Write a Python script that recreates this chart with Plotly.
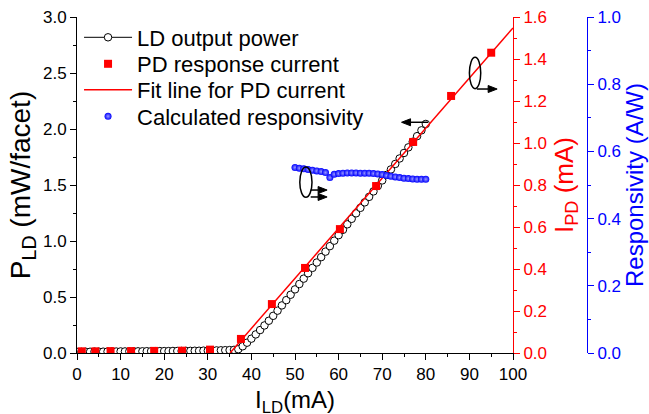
import plotly.graph_objects as go

# ---------------- data ----------------
ld_current = list(range(0, 81))
ld_power = [0.010, 0.010, 0.011, 0.011, 0.012, 0.012, 0.012, 0.013, 0.013, 0.013,
            0.014, 0.014, 0.014, 0.015, 0.015, 0.015, 0.016, 0.016, 0.016, 0.017,
            0.017, 0.017, 0.018, 0.018, 0.018, 0.019, 0.019, 0.020, 0.020, 0.021,
            0.021, 0.022, 0.023, 0.024, 0.025, 0.026, 0.028, 0.034, 0.060, 0.092,
            0.128, 0.166, 0.205, 0.246, 0.288, 0.332, 0.378, 0.425, 0.472, 0.520,
            0.568, 0.616, 0.664, 0.712, 0.760, 0.808, 0.856, 0.905, 0.954, 1.003,
            1.052, 1.100, 1.149, 1.198, 1.247, 1.296, 1.345, 1.394, 1.443, 1.492,
            1.541, 1.590, 1.639, 1.688, 1.737, 1.786, 1.836, 1.886, 1.936, 1.988,
            2.045]

pd_ld_current = [1.1, 4.2, 7.7, 12.4, 17.7, 24.1, 30.5, 37.6, 44.7, 52.3, 60.3, 68.6, 77.1, 85.8, 95.0]
pd_current = [0.008, 0.008, 0.009, 0.009, 0.010, 0.011, 0.016, 0.067, 0.233, 0.405,
              0.590, 0.795, 1.005, 1.224, 1.430]

fit_x = [35.1, 100.0]
fit_y = [0.0, 1.548]

resp_current = list(range(50, 81))
responsivity = [0.552, 0.550, 0.548, 0.546, 0.544, 0.542, 0.540, 0.537, 0.522, 0.532,
                0.534, 0.535, 0.536, 0.536, 0.536, 0.535, 0.535, 0.535, 0.534, 0.533,
                0.531, 0.528, 0.526, 0.524, 0.522, 0.520, 0.519, 0.518, 0.517, 0.517,
                0.517]

x_ticks = [0, 10, 20, 30, 40, 50, 60, 70, 80, 90, 100]

FONT = "Liberation Sans, Arial, sans-serif"
RED = "#ff0000"
BLUE = "#0000ff"

fig = go.Figure()

fig.add_trace(go.Scatter(
    x=ld_current, y=ld_power, mode="lines+markers", name="LD output power",
    line=dict(color="black", width=1),
    marker=dict(symbol="circle", size=7.5, color="white", line=dict(color="black", width=1)),
    yaxis="y", legend="legend"))

fig.add_trace(go.Scatter(
    x=pd_ld_current, y=pd_current, mode="markers", name="PD response current",
    marker=dict(symbol="square", size=8, color=RED),
    yaxis="y2", legend="legend2"))

fig.add_trace(go.Scatter(
    x=fit_x, y=fit_y, mode="lines", name="Fit line for PD current",
    line=dict(color=RED, width=1.5),
    yaxis="y2", legend="legend3"))

fig.add_trace(go.Scatter(
    x=resp_current, y=responsivity, mode="markers", name="Calculated responsivity",
    marker=dict(symbol="circle", size=7, color=BLUE,
                gradient=dict(type="radial", color="#9a9aff"),
                line=dict(width=0)),
    yaxis="y3", legend="legend4"))

dom_end = 436 / 510
plot_top, plot_h = 17, 336


def leg(center_px):
    return dict(x=0.004, y=1 - (center_px - plot_top) / plot_h, xanchor="left", yanchor="middle",
                bgcolor="rgba(0,0,0,0)", font=dict(size=22, family=FONT, color="black"),
                itemwidth=48, borderwidth=0)


fig.update_layout(
    width=649, height=414,
    margin=dict(l=77, r=62, t=17, b=61, autoexpand=False),
    paper_bgcolor="white", plot_bgcolor="white",
    font=dict(family=FONT, size=17, color="black"),
    showlegend=True,
    legend=leg(37.5), legend2=leg(64), legend3=leg(90), legend4=leg(116.5),
    xaxis=dict(domain=[0, dom_end], range=[0, 100], tickvals=x_ticks,
               showline=True, linecolor="black", linewidth=1,
               ticks="outside", ticklen=6, tickcolor="black",
               minor=dict(ticks="outside", ticklen=3, dtick=5, tickcolor="black"),
               showgrid=False, zeroline=False, automargin=False,
               tickfont=dict(size=17)),
    xaxis2=dict(domain=[0, dom_end], range=[0, 100], overlaying="x", side="top",
                anchor="y", tickvals=x_ticks, showticklabels=False,
                showline=True, linecolor="black", linewidth=1,
                ticks="inside", ticklen=6, tickcolor="black",
                minor=dict(ticks="inside", ticklen=3, dtick=5, tickcolor="black"),
                showgrid=False, zeroline=False, automargin=False),
    yaxis=dict(range=[0, 3.0], dtick=0.5, tickformat=".1f",
               showline=True, linecolor="black", linewidth=1,
               ticks="outside", ticklen=6, tickcolor="black",
               minor=dict(ticks="outside", ticklen=3, dtick=0.25, tickcolor="black"),
               showgrid=False, zeroline=False, tickfont=dict(size=17), automargin=False,
               title=dict(text="P<sub>LD</sub> (mW/facet)", font=dict(size=28), standoff=4)),
    yaxis2=dict(range=[0, 1.6], dtick=0.2, tickformat=".1f", overlaying="y",
                side="right", anchor="x",
                showline=True, linecolor=RED, linewidth=1,
                ticks="outside", ticklen=6, tickcolor=RED,
                minor=dict(ticks="outside", ticklen=3, dtick=0.1, tickcolor=RED),
                showgrid=False, zeroline=False, automargin=False,
                tickfont=dict(size=17, color=RED),
                title=dict(text="I<sub>PD</sub> (mA)", font=dict(size=26, color=RED), standoff=8)),
    yaxis3=dict(range=[0, 1.0], dtick=0.2, tickformat=".1f", overlaying="y",
                side="right", anchor="free", position=1.0,
                showline=True, linecolor=BLUE, linewidth=1,
                ticks="outside", ticklen=6, tickcolor=BLUE,
                minor=dict(ticks="outside", ticklen=3, dtick=0.1, tickcolor=BLUE),
                showgrid=False, zeroline=False, automargin=False,
                tickfont=dict(size=17, color=BLUE),
                title=dict(text="Responsivity (A/W)", font=dict(size=24, color=BLUE), standoff=5)),
)

# x-axis title
fig.add_annotation(text="I<sub>LD</sub>(mA)", xref="paper", yref="paper",
                   x=(295 - 77) / 510, y=-(401 - 353) / plot_h,
                   xanchor="center", yanchor="middle", showarrow=False,
                   font=dict(size=24, family=FONT, color="black"))

# ellipse markers pointing to axes
fig.add_shape(type="circle", xref="x", yref="y", x0=90.0, x1=92.6, y0=2.36, y1=2.64,
              line=dict(color="black", width=1.5))
fig.add_shape(type="circle", xref="x", yref="y", x0=51.1, x1=53.9, y0=1.39, y1=1.66,
              line=dict(color="black", width=1.5))

# arrows: (tail_x, tail_y, head_base_x, head_base_y, direction)
arrows = [
    (80.5, 2.06, 76.5, 2.06, -1),
    (91.7, 2.357, 94.3, 2.357, 1),
    (53.6, 1.455, 55.3, 1.455, 1),
    (53.6, 1.393, 55.3, 1.393, 1),
]
for tx, ty, hx, hy, d in arrows:
    fig.add_shape(type="line", xref="x", yref="y", x0=tx, y0=ty, x1=hx, y1=hy,
                  line=dict(color="black", width=1.5))
    fig.add_shape(type="path", xref="x", yref="y", xsizemode="pixel", ysizemode="pixel",
                  xanchor=hx, yanchor=hy,
                  path=f"M{9*d},0 L0,3.5 L0,-3.5 Z",
                  fillcolor="black", line=dict(color="black", width=1))

fig.write_html("out.html")
